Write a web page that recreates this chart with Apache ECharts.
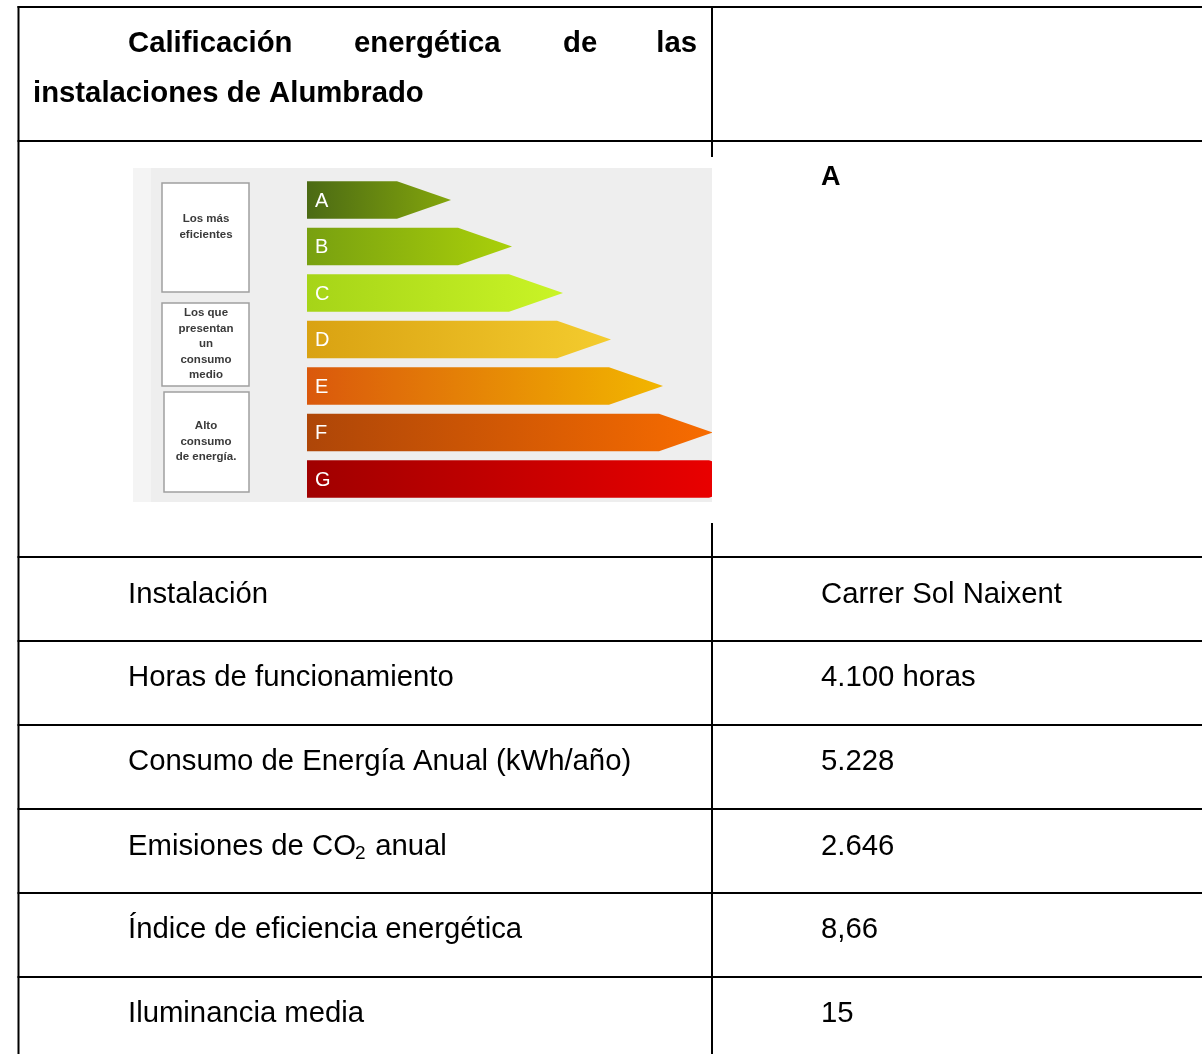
<!DOCTYPE html>
<html>
<head>
<meta charset="utf-8">
<title>Calificación energética</title>
<script src="https://cdn.jsdelivr.net/npm/echarts@6/dist/echarts.min.js"></script>
<style>
  html, body { margin: 0; padding: 0; background: #fff; }
  #main { width: 1202px; height: 1054px; }
</style>
</head>
<body>
<div id="main"></div>
<script>
// data
var grades = ['A', 'B', 'C', 'D', 'E', 'F', 'G'];
var arrowLength = [144, 205, 256, 304, 356, 406, 456];
var rating = 'A';
var rowLabels = ['Instalación', 'Horas de funcionamiento', 'Consumo de Energía Anual (kWh/año)',
    'Emisiones de CO', 'Índice de eficiencia energética', 'Iluminancia media'];
var rowValues = ['Carrer Sol Naixent', '4.100 horas', '5.228', '2.646', '8,66', '15'];
var gradeColors = [
    ['#4b6a14', '#84a60c'], ['#78a010', '#aad00a'], ['#a6d418', '#caf426'],
    ['#d9a212', '#f4cc2e'], ['#da580c', '#f2b600'], ['#ae4608', '#f86c00'],
    ['#a00000', '#f20000']
];
var boxTexts = [
    ['Los más', 'eficientes'],
    ['Los que', 'presentan', 'un', 'consumo', 'medio'],
    ['Alto', 'consumo', 'de energía.']
];

var FONT = '"Liberation Sans", Arial, sans-serif';
var chart = echarts.init(document.getElementById('main'));

// ==============================================================
// table frame
// ==============================================================
var graphics = [];
function hline(y) {
    graphics.push({ type: 'line', z: 5, shape: { x1: 17.5, y1: y, x2: 1202, y2: y },
        style: { stroke: '#000', lineWidth: 2 } });
}
function vline(x, y1, y2) {
    graphics.push({ type: 'line', z: 5, shape: { x1: x, y1: y1, x2: x, y2: y2 },
        style: { stroke: '#000', lineWidth: 2 } });
}
function txt(x, y, s, size, weight, color, align) {
    graphics.push({ type: 'text', z: 6, x: x, y: y,
        style: { text: s, fill: color || '#000', font: (weight || 'normal') + ' ' + size + 'px ' + FONT,
            textAlign: align || 'left', textVerticalAlign: 'middle' } });
}
[7, 141, 557, 641, 725, 809, 893, 977].forEach(hline);
vline(18.5, 6, 1054);
vline(712, 6, 157);
vline(712, 523, 1054);

// header (justified first line)
txt(128, 43.5, 'Calificación', 29.3, 'bold');
txt(354, 43.5, 'energética', 29.3, 'bold');
txt(563, 43.5, 'de', 29.3, 'bold');
txt(697, 43.5, 'las', 29.3, 'bold', '#000', 'right');
txt(33, 93.5, 'instalaciones de Alumbrado', 29.3, 'bold');
txt(821, 177.5, rating, 27, 'bold');

// rows
var rowY = [594.5, 677.5, 761.5, 846.5, 929.5, 1013.5];
rowLabels.forEach(function (s, i) {
    txt(128, rowY[i], s, 29.3);
    txt(821, rowY[i], rowValues[i], 29.3);
});
// CO2 subscript + rest
txt(355, 853.5, '2', 19);
txt(367, 846.5, ' anual', 29.3);

// image background
graphics.push({ type: 'rect', z: -10, shape: { x: 120, y: 157, width: 592, height: 366 },
    style: { fill: '#fff' } });
graphics.push({ type: 'rect', z: -9, shape: { x: 133, y: 168, width: 579, height: 334 },
    style: { fill: '#eeeeee' } });
graphics.push({ type: 'rect', z: -8, shape: { x: 133, y: 168, width: 18, height: 334 },
    style: { fill: '#f4f4f4' } });
var boxes = [[162, 183, 87, 109], [162, 303, 87, 83], [164, 392, 85, 100]];
var boxTextTop = [219, 313, 426];
boxes.forEach(function (b, i) {
    graphics.push({ type: 'rect', z: -7, shape: { x: b[0], y: b[1], width: b[2], height: b[3] },
        style: { fill: '#fff', stroke: '#a0a0a0', lineWidth: 1.5 } });
    boxTexts[i].forEach(function (s, j) {
        txt(206, boxTextTop[i] + j * 15.5, s, 11.5, 'bold', '#3a3a3a', 'center');
    });
});

// ==============================================================
// energy arrows
// ==============================================================
var HEAD = 54;
function renderArrow(params, api) {
    var i = api.value(1);
    var tip = api.coord([api.value(0), i]);
    var start = api.coord([0, i]);
    var h = api.size([0, 1])[1] * 0.806;
    var y0 = tip[1] - h / 2, y1 = tip[1] + h / 2;
    var body = tip[0] - HEAD;
    var c = gradeColors[params.dataIndex];
    return {
        type: 'group',
        children: [{
            type: 'polygon',
            shape: { points: [[start[0], y0], [body, y0], [tip[0], tip[1]], [body, y1], [start[0], y1]] },
            style: { fill: new echarts.graphic.LinearGradient(0, 0, 1, 0,
                [{ offset: 0, color: c[0] }, { offset: 1, color: c[1] }]) }
        }, {
            type: 'text',
            x: start[0] + 8, y: tip[1] + 1,
            style: { text: grades[params.dataIndex], fill: '#fff', font: '20px ' + FONT,
                textVerticalAlign: 'middle' }
        }]
    };
}

chart.setOption({
    backgroundColor: '#fff',
    animation: false,
    grid: { left: 307, right: 490, top: 176.75, height: 325.5 },
    xAxis: { type: 'value', min: 0, max: 405, show: false },
    yAxis: { type: 'category', data: grades, inverse: true, show: false },
    graphic: { elements: graphics },
    series: [{
        type: 'custom',
        clip: true,
        renderItem: renderArrow,
        encode: { x: 0, y: 1 },
        data: arrowLength.map(function (v, i) { return [v, i]; })
    }]
});
</script>
</body>
</html>
